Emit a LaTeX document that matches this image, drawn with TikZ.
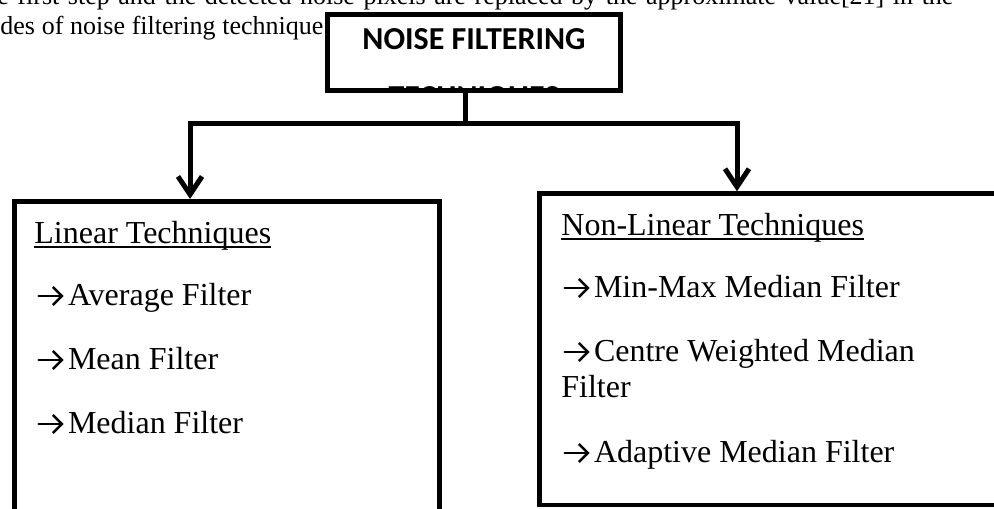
\documentclass[tikz,border=0pt]{standalone}
\usepackage{fontspec}
\setmainfont{Liberation Serif}
\newfontfamily\boxfont{Carlito}
\usetikzlibrary{arrows.meta}

% the arrow glyph in front of each filter
\newcommand\rarr{\tikz[baseline=-4.5pt]\draw[line width=1.3pt, line cap=round, -{Straight Barb[length=4.5pt,width=9pt]}] (0pt,0pt) -- (12.5pt,0pt);\hspace{1.5pt}}
\newcommand\headline[1]{\setbox0\hbox{#1}\rlap{\rule[-2.4pt]{\wd0}{0.8pt}}\box0}

\tikzset{
    frame/.style={draw, line width=2.5pt, fill=white, inner sep=0pt},
    link/.style={line width=2.5pt},
    linkarrow/.style={link, -{Straight Barb[length=9pt,width=12pt]}},
    bodytext/.style={font=\fontsize{13}{15}\selectfont, inner sep=0pt, anchor=base west},
    item/.style={font=\fontsize{16}{18}\selectfont, inner sep=0pt, anchor=base west},
    title/.style={font=\boxfont\bfseries\fontsize{16}{18}\selectfont, inner sep=0pt, anchor=base},
}

\begin{document}
\begin{tikzpicture}[x=0.5pt,y=-0.5pt]
        \useasboundingbox (0,0) rectangle (994,508);
        % running text of the page
        \node[bodytext] (line1) at (-3,5) {\makebox[478pt][s]{e first step and the detected noise pixels are replaced by the approximate value[21] in the}};
        \node[bodytext] (line2) at (0,35) {\makebox[161.5pt][s]{des of noise filtering technique}};
        % top box, second line cut by the frame
        \node[frame, minimum width=146.5pt, minimum height=38pt] (noise) at (474,52.5) {};
        \begin{scope}
            \clip (noise.south west) rectangle (noise.north east);
            \node[title] (title1) at (474,50) {NOISE FILTERING};
            \node[title] (title2) at (474,107) {TECHNIQUES};
        \end{scope}
        % the two boxes
        \node[frame, minimum width=212.5pt, minimum height=169.25pt] (linear) at (227,370.75) {};
        \node[frame, line width=2.2pt, minimum width=235.25pt, minimum height=155.75pt] (nonlinear) at (774.75,349.25) {};
        % connectors
        \coordinate (split) at (465,123);
        \coordinate (leftdrop) at (190,123);
        \coordinate (rightdrop) at (737,123);
        \draw[link] (noise.south -| split) -- (split);
        \draw[linkarrow] (split) -| (linear.north -| leftdrop);
        \draw[linkarrow] (split) -| (nonlinear.north -| rightdrop);
        % linear list
        \node[item] (linhead) at (34,243) {\headline{Linear Techniques}};
        \foreach \name/\txt [count=\i] in {avg/Average Filter, mean/Mean Filter, median/Median Filter} {
            \node[item] (\name) at (37,241+64*\i) {\rarr\txt};
        }
        % non-linear list
        \node[item] (nlhead) at (561,235) {\headline{Non-Linear Techniques}};
        \node[item] (minmax) at (563,297) {\rarr Min-Max Median Filter};
        \node[item] (cwm) at (563,361) {\rarr Centre Weighted Median};
        \node[item] (cwmrest) at (561,397) {Filter};
        \node[item] (adaptive) at (563,462) {\rarr Adaptive Median Filter};
    \end{tikzpicture}
\end{document}
